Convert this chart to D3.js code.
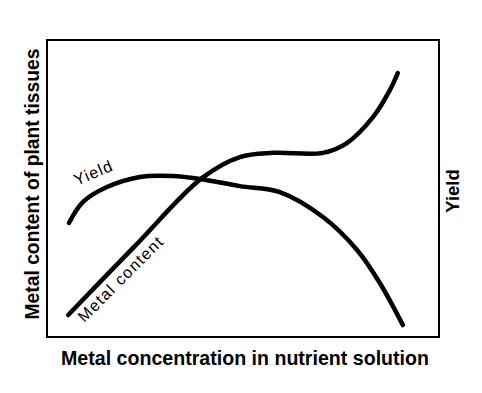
<!DOCTYPE html>
<html>
<head>
<meta charset="utf-8">
<script src="https://cdn.jsdelivr.net/npm/d3@7"></script>
<style>
  body { margin: 0; background: #fff; }
  text { font-family: "Liberation Sans", Arial, sans-serif; fill: #000; }
</style>
</head>
<body>
<div id="chart"></div>
<script>
// values, both axes in arbitrary 0-100 units
var metalX = [5.4, 22.4, 39.5, 49.2, 57.7, 70.4, 76.5, 83.2, 87.5, 89.5];
var metalY = [7.4, 30.6, 53.5, 60.6, 62.0, 62.0, 65.3, 74.1, 83.2, 88.9];
var yieldX = [5.6, 9.2, 15.3, 23.7, 32.1, 39.0, 49.2, 59.4, 70.4, 79.1, 84.9, 90.8];
var yieldY = [38.4, 45.5, 50.5, 53.9, 54.2, 53.2, 50.8, 48.8, 40.4, 29.3, 18.2, 4.0];

// set the dimensions and margins of the graph
var margin = {top: 40, right: 43, bottom: 56, left: 47},
    width = 482 - margin.left - margin.right,
    height = 393 - margin.top - margin.bottom;

var svg = d3.select("#chart")
  .append("svg")
    .attr("width", 482)
    .attr("height", 393)
  .append("g")
    .attr("transform", "translate(" + margin.left + "," + margin.top + ")");

var x = d3.scaleLinear().domain([0, 100]).range([0, width]);
var y = d3.scaleLinear().domain([0, 100]).range([height, 0]);

// frame
svg.append("rect")
  .attr("x", 0)
  .attr("y", 0)
  .attr("width", width)
  .attr("height", height)
  .style("fill", "none")
  .style("stroke", "#000")
  .style("stroke-width", 2);

var line = d3.line()
  .x(function(d) { return x(d[0]); })
  .y(function(d) { return y(d[1]); })
  .curve(d3.curveCatmullRom.alpha(0.5));

svg.append("path")
  .datum(d3.zip(metalX, metalY))
  .attr("d", line)
  .style("fill", "none")
  .style("stroke", "#000")
  .style("stroke-width", 4.5)
  .style("stroke-linecap", "round");

svg.append("path")
  .datum(d3.zip(yieldX, yieldY))
  .attr("d", line)
  .style("fill", "none")
  .style("stroke", "#000")
  .style("stroke-width", 4.5)
  .style("stroke-linecap", "round");

// curve labels
svg.append("text")
  .attr("transform", "translate(" + x(12.4) + "," + y(53.6) + ") rotate(-23)")
  .attr("text-anchor", "middle")
  .style("font-size", "16px")
  .style("letter-spacing", "1.2px")
  .text("Yield");

svg.append("text")
  .attr("transform", "translate(" + x(19.8) + "," + y(18.3) + ") rotate(-45)")
  .attr("text-anchor", "middle")
  .style("font-size", "16px")
  .style("letter-spacing", "1.4px")
  .text("Metal content");

// axis titles
svg.append("text")
  .attr("x", width / 2 + 2)
  .attr("y", height + 28)
  .attr("text-anchor", "middle")
  .style("font-size", "19.6px")
  .style("font-weight", "bold")
  .text("Metal concentration in nutrient solution");

svg.append("text")
  .attr("transform", "translate(-8," + (height / 2 - 4.5) + ") rotate(-90)")
  .attr("text-anchor", "middle")
  .style("font-size", "19.3px")
  .style("font-weight", "bold")
  .text("Metal content of plant tissues");

svg.append("text")
  .attr("transform", "translate(" + (width + 20) + "," + (height / 2 + 2.5) + ") rotate(-90)")
  .attr("text-anchor", "middle")
  .style("font-size", "18.5px")
  .style("font-weight", "bold")
  .text("Yield");
</script>
</body>
</html>
